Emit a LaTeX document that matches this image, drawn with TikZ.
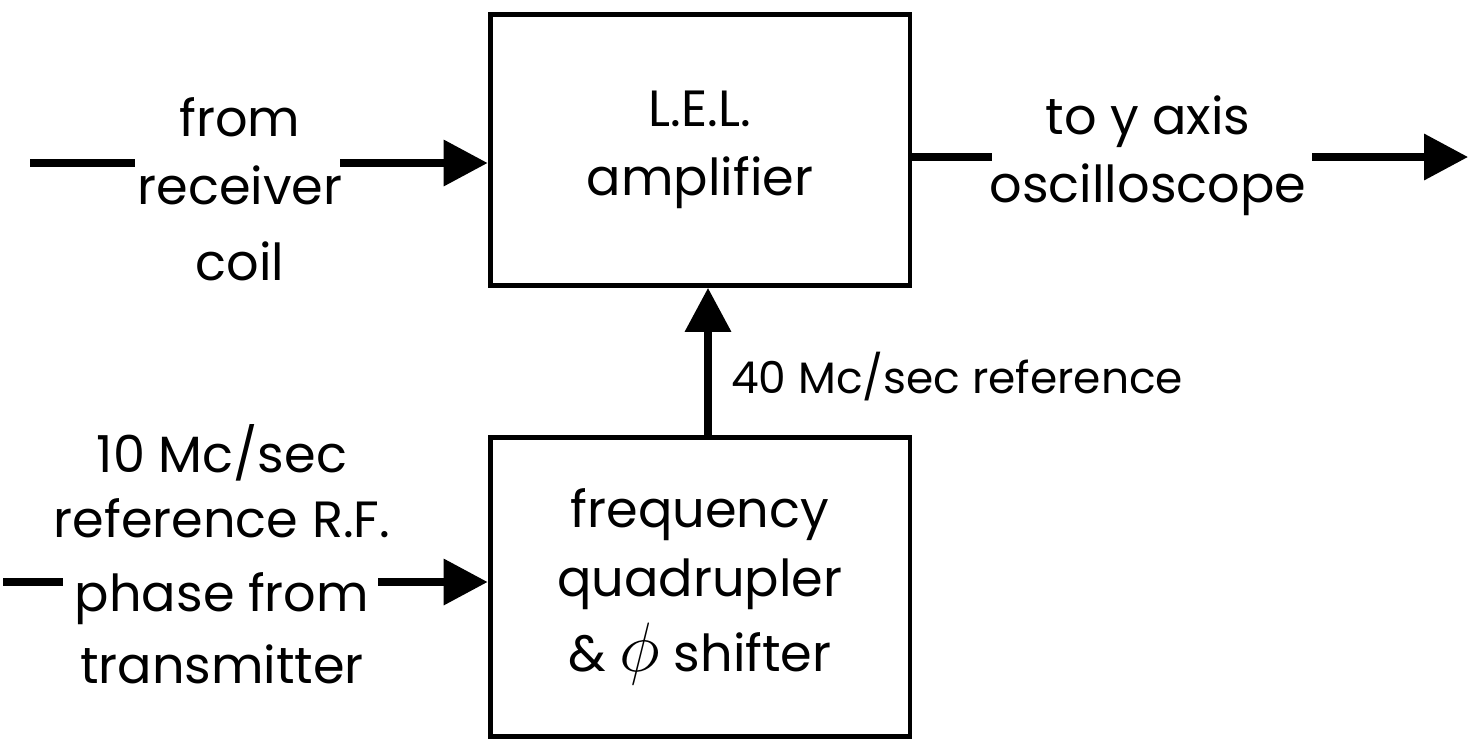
\documentclass[tikz,border=0pt]{standalone}
\usepackage{graphicx}
\usepackage{fontspec}
\setmainfont{Poppins}
\usetikzlibrary{arrows.meta,positioning}

\begin{document}
\begin{tikzpicture}[x=0.02cm,y=-0.02cm,>={Triangle[length=0.88cm,width=0.9cm]},
  block/.style={rectangle, draw, line width=2.8pt, minimum width=8.4cm, align=center},
  lbl/.style={align=center, inner sep=0pt},
  wire/.style={line width=4pt},
  every node/.style={font=\fontsize{29}{37}\selectfont}]

\useasboundingbox (0,0) rectangle (1470,738);

\node (amp) [block, minimum height=5.42cm] at (700,150) {L.E.L.\\[2pt]amplifier};
\node (quad) [block, minimum height=5.98cm] at (700,587) {frequency\\[2pt]quadrupler\\[6pt]\& \scalebox{1.6}{$\phi$} shifter};

\node (rcv) [lbl, anchor=north] at (240,97) {from\\[2pt]receiver\\[6pt]coil};
\node (osc) [lbl, anchor=north] at (1148,95) {to y axis\\[2pt]oscilloscope};
\node (ref40) [lbl, anchor=north west, font=\fontsize{25}{30}\selectfont] at (731,352) {40 Mc/sec reference};
\node (ref10) [lbl, anchor=north] at (222,424) {10 Mc/sec\\reference R.F.\\[5pt]phase from\\[4pt]transmitter};

\coordinate (rcvA) at (30,163);
\coordinate (rcvB) at (135,163);
\coordinate (rcvC) at (340,163);
\draw[wire] (rcvA) -- (rcvB);
\draw[wire,->] (rcvC) -- (amp.west |- rcvC);

\coordinate (oscA) at (992,157);
\coordinate (oscB) at (1312,157);
\coordinate (oscC) at (1468,157);
\draw[wire] (amp.east |- oscA) -- (oscA);
\draw[wire,->] (oscB) -- (oscC);

\coordinate (refA) at (3,582);
\coordinate (refB) at (63,582);
\coordinate (refC) at (378,582);
\draw[wire] (refA) -- (refB);
\draw[wire,->] (refC) -- (quad.west |- refC);

\draw[wire,->] ([xshift=0.16cm]quad.north) -- ([xshift=0.16cm]amp.south);

\end{tikzpicture}
\end{document}
